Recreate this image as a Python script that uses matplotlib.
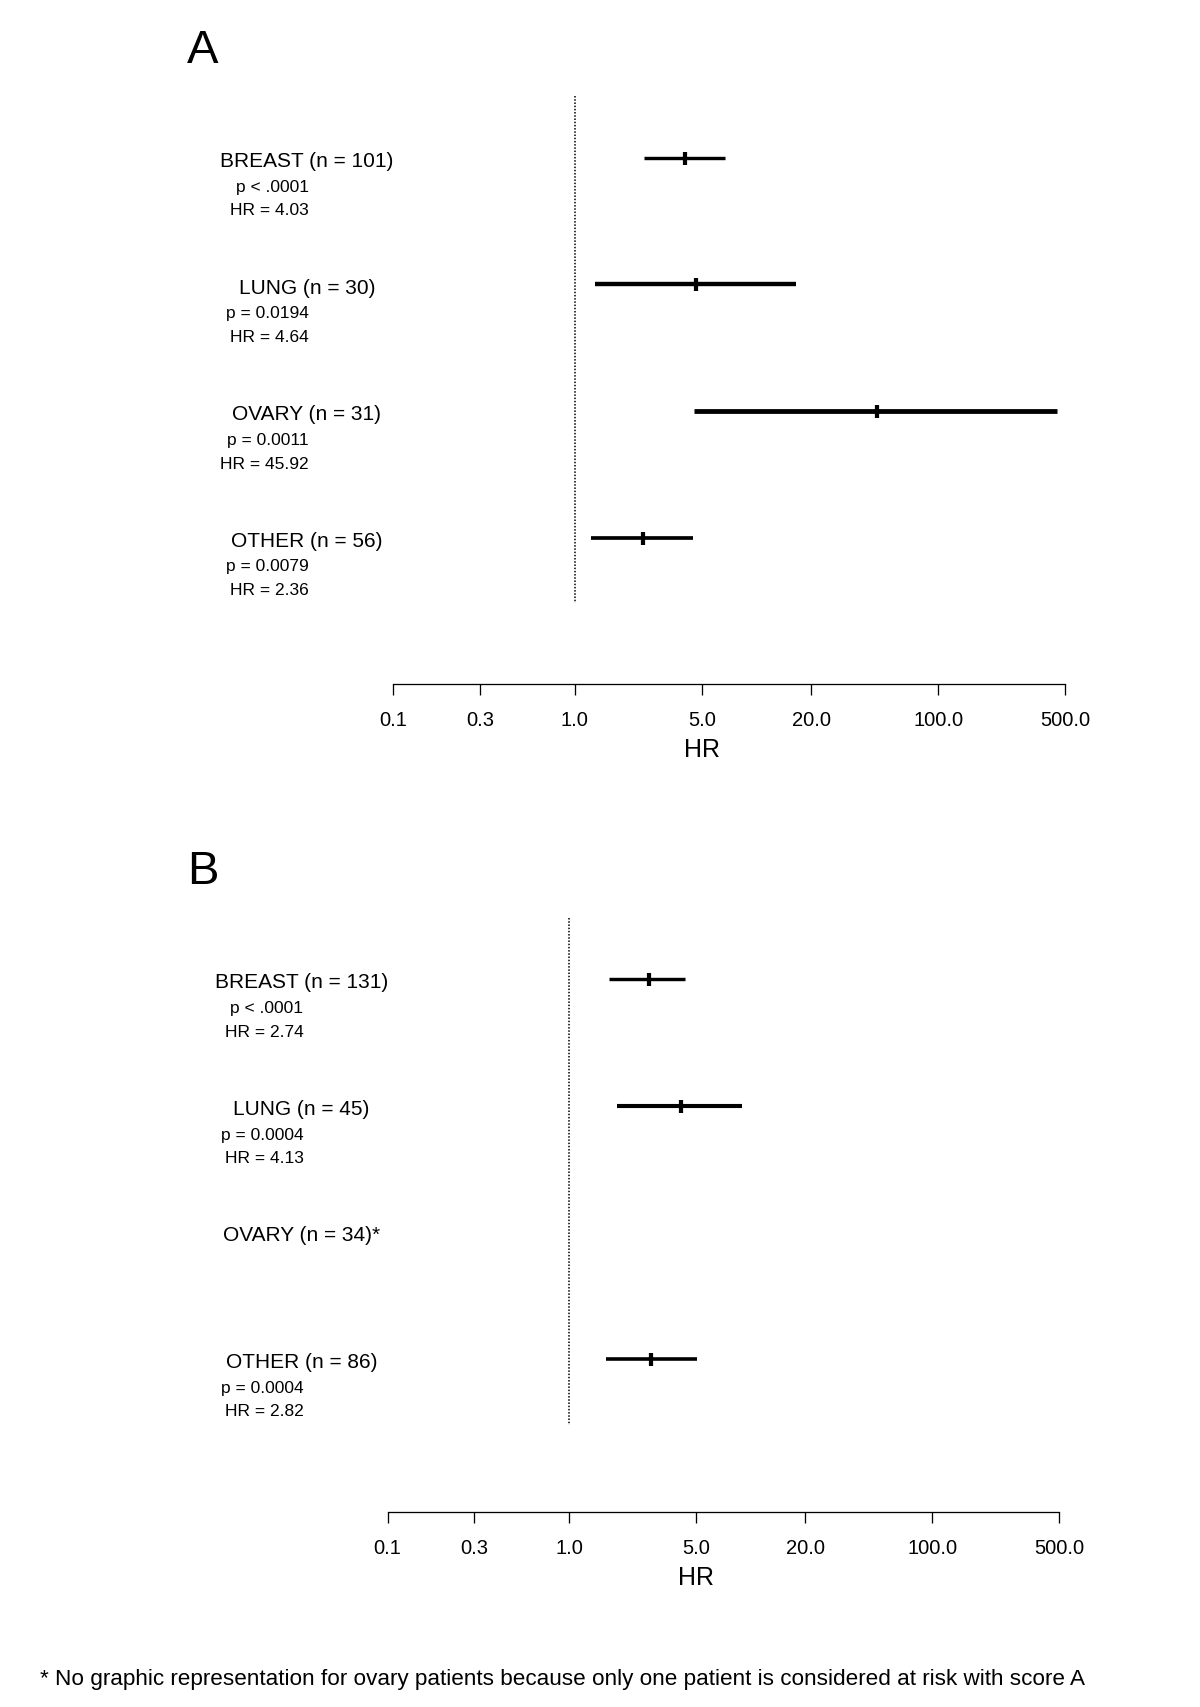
import numpy as np
import matplotlib
matplotlib.use('Agg')
import matplotlib.pyplot as plt
from matplotlib.ticker import FixedLocator, NullLocator
from matplotlib.transforms import blended_transform_factory

# data
sites_a = ['BREAST (n = 101)', 'LUNG (n = 30)', 'OVARY (n = 31)', 'OTHER (n = 56)']
pvals_a = ['p < .0001', 'p = 0.0194', 'p = 0.0011', 'p = 0.0079']
hr_a = [4.03, 4.64, 45.92, 2.36]
lo_a = [2.39, 1.29, 4.55, 1.23]
hi_a = [6.67, 16.6, 449.0, 4.47]

sites_b = ['BREAST (n = 131)', 'LUNG (n = 45)', 'OVARY (n = 34)*', 'OTHER (n = 86)']
pvals_b = ['p < .0001', 'p = 0.0004', None, 'p = 0.0004']
hr_b = [2.74, 4.13, None, 2.82]
lo_b = [1.65, 1.83, None, 1.59]
hi_b = [4.35, 8.9, None, 5.07]

tick_vals = [0.1, 0.3, 1.0, 5.0, 20.0, 100.0, 500.0]
tick_labels = ['0.1', '0.3', '1.0', '5.0', '20.0', '100.0', '500.0']

footnote = ('* No graphic representation for ovary patients because only one '
            'patient is considered at risk with score A')

plt.rcParams['font.family'] = ['Liberation Sans', 'DejaVu Sans']

W, H = 1200, 1707
fig = plt.figure(figsize=(W / 100, H / 100), dpi=100)

DEC = 181.6      # pixels per decade
ROW = 126.6      # pixels between rows
PT = 72 / 100    # points per pixel


def panel(letter, x0, row0, axis_y, text_x, sites, pvals, hrs, los, his, widths):
    top = row0 - 0.75 * ROW
    wpx = DEC * np.log10(500 / 0.1)
    ax = fig.add_axes([x0 / W, 1 - axis_y / H, wpx / W, (axis_y - top) / H])
    ax.set_xscale('log')
    ax.set_xlim(0.1, 500)
    ax.set_ylim((axis_y - row0) / ROW, -(row0 - top) / ROW)
    for s in ['left', 'right', 'top']:
        ax.spines[s].set_visible(False)
    ax.spines['bottom'].set_linewidth(1.3 * PT)
    ax.xaxis.set_major_locator(FixedLocator(tick_vals))
    ax.xaxis.set_minor_locator(NullLocator())
    ax.set_xticklabels(tick_labels)
    ax.tick_params(axis='x', direction='out', length=10.7 * PT, width=1.3 * PT,
                   labelsize=14.5, pad=11.5)
    ax.set_yticks([])
    ax.set_xlabel('HR', fontsize=18)
    ax.xaxis.label.set_verticalalignment('center')
    ax_h = axis_y - top
    ax.xaxis.set_label_coords(np.log10(5.0 / 0.1) / np.log10(500 / 0.1), -66 / ax_h)

    # reference line at HR = 1
    ax.plot([1, 1], [-0.485, 3.52], color='black', lw=1.1,
            ls=(0, (1, 1.1)), clip_on=False)

    tr = blended_transform_factory(fig.transFigure, ax.transData)
    for i, site in enumerate(sites):
        ax.text(text_x / W, i + 0.03, site, transform=tr, ha='center',
                va='center', fontsize=15)
        if pvals[i] is not None:
            ax.text((text_x + 2) / W, i + 0.233, pvals[i], transform=tr,
                    ha='right', va='center', fontsize=12.5)
            ax.text((text_x + 2) / W, i + 0.42, 'HR = %.2f' % hrs[i],
                    transform=tr, ha='right', va='center', fontsize=12.5)
        if hrs[i] is not None:
            ax.plot([los[i], his[i]], [i, i], color='black', lw=widths[i] * PT,
                    solid_capstyle='butt', clip_on=False)
            ax.plot([hrs[i]], [i], marker='|', ms=13 * PT, mew=4.2 * PT,
                    color='black', clip_on=False)

    fig.text(203 / W, 1 - (row0 - 107) / H, letter, ha='center', va='center',
             fontsize=34)
    return ax


panel('A', 393.3, 157.7, 684.3, 307, sites_a, pvals_a, hr_a, lo_a, hi_a,
      [3.4, 4.4, 4.8, 3.7])
panel('B', 387.5, 979.0, 1512.0, 301.5, sites_b, pvals_b, hr_b, lo_b, hi_b,
      [3.4, 4.1, 0, 3.6])

fig.text(40 / W, 1 - 1679 / H, footnote, ha='left', va='center', fontsize=16.2)

fig.savefig('out.png', dpi=100, facecolor='white')
